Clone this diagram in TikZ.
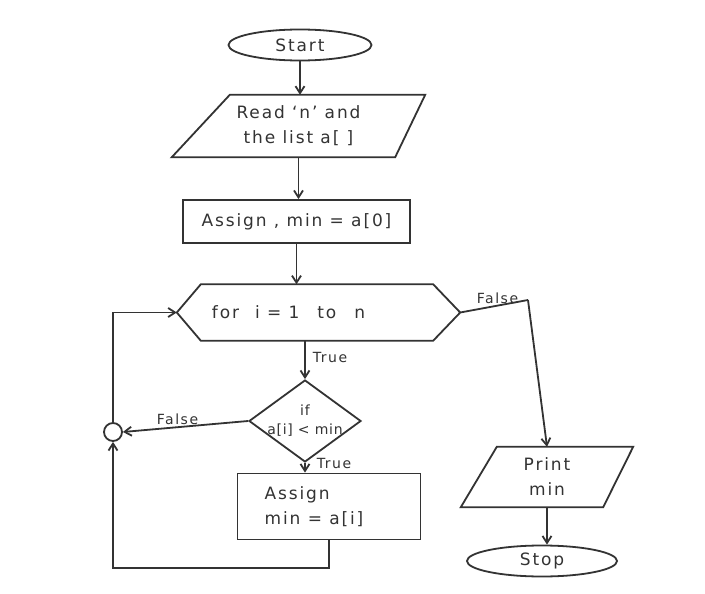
\documentclass[tikz,border=0pt]{standalone}
\usepackage{fontspec}
\setmainfont[LetterSpace=11]{DejaVu Sans}
\usetikzlibrary{shapes.geometric,arrows.meta,calc}
\definecolor{ink}{HTML}{333333}
\tikzset{
  x=1pt,y=-1pt,
  every node/.style={text=ink},
  line/.style={draw=ink,line width=1.8pt},
  conn/.style={line,-{Straight Barb[length=7pt,width=9pt]}},
  term/.style={ellipse,line,minimum width=#1,minimum height=31pt,inner sep=0pt,font=\fontsize{17}{19}\selectfont},
  box/.style={rectangle,minimum width=#1,inner sep=0pt,font=\fontsize{17}{25}\selectfont,align=center},
  lbl/.style={font=\fontsize{14}{16}\selectfont,inner sep=1pt},
}
\begin{document}
\begin{tikzpicture}
\useasboundingbox[fill=white] (0,0) rectangle (705,594);

% Start
\node[term=143pt] (start) at (300,45) {Start};

% Read (parallelogram)
\node[box=253pt,minimum height=62pt] (read) at (298.5,126) {Read `n' and\\the list a[ ]};
\draw[line] ($(read.north west)+(58,0)$) -- (read.north east) -- ($(read.south east)+(-30,0)$) -- (read.south west) -- cycle;

% Assign min = a[0]
\node[box=227pt,minimum height=43pt,line] (as1) at (296.5,221.5) {Assign , min = a[0]};

% for hexagon
\node[box=283pt,minimum height=56pt] (for) at (318.5,312.5) {\hspace*{-60pt}for\hspace{16pt}i = 1\hspace{18pt}to\hspace{18pt}n};
\draw[line] ($(for.north west)+(24,0)$) -- ($(for.north east)+(-27,0)$) -- (for.east) -- ($(for.south east)+(-27,0)$) -- ($(for.south west)+(24,0)$) -- (for.west) -- cycle;

% decision diamond
\node[diamond,line,shape aspect=1.37,minimum width=112pt,minimum height=82pt,inner sep=0pt,align=center,font=\fontsize{14}{19}\addfontfeature{LetterSpace=5}\selectfont] (dec) at (305,421) {\makebox[40pt]{if}\\\makebox[40pt]{a[i] < min}};

% connector circle
\node[circle,line,minimum size=18pt,inner sep=0pt] (jn) at (113,432) {};

% Assign min = a[i]
\node[box=183pt,minimum height=66pt,line,align=left] (as2) at (329,506.5) {\hspace*{-30pt}Assign\\ \hspace*{-30pt}min = a[i]};

% Print min
\node[box=172pt,minimum height=60pt] (pr) at (547,477) {Print\\min};
\draw[line] ($(pr.north west)+(36,0)$) -- (pr.north east) -- ($(pr.south east)+(-30,0)$) -- (pr.south west) -- cycle;

% Stop
\node[term=150pt] (stop) at (542,561) {Stop};

% connectors
\draw[conn] (start.south) -- (start.south |- read.north);
\draw[conn] (read.south) -- (read.south |- as1.north);
\draw[conn] (as1.south) -- (as1.south |- for.north);
\draw[conn] (dec.north |- for.south) -- node[lbl,right,pos=0.45,xshift=6pt] {True} (dec.north);
\draw[conn] (dec.west) -- node[lbl,above,xshift=-8pt] {False} (jn.east);
\draw[conn] (dec.south) -- node[lbl,right,pos=0.1,xshift=10pt] {True} (dec.south |- as2.north);
\coordinate (lb) at (113,568);
\draw[conn] (as2.south) |- (lb) -- (jn.south);
\draw[conn] (jn.north) |- (for.west);
\coordinate (fk) at (528,300);
\draw[line] (for.east) -- node[lbl,above,pos=0.55] {False} (fk);
\draw[conn] (fk) -- (pr.north);
\draw[conn] (pr.south) -- (pr.south |- stop.north);
\end{tikzpicture}
\end{document}
